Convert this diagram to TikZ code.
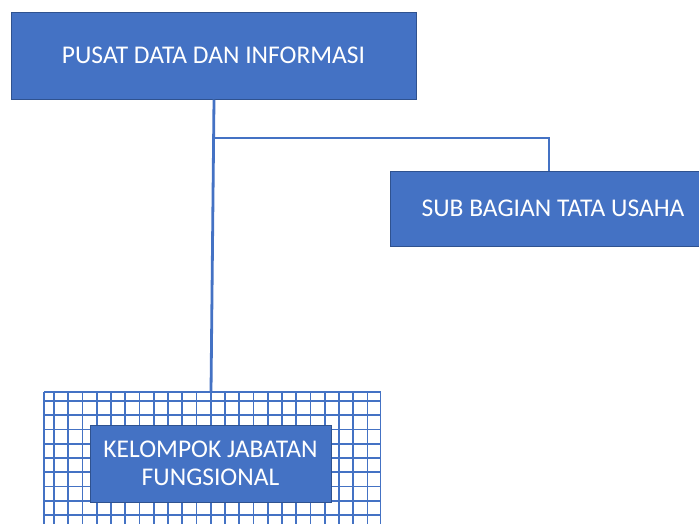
\documentclass[tikz,border=0pt]{standalone}
\usepackage{fontspec}
\setmainfont{Carlito}
\definecolor{boxblue}{HTML}{4472C4}
\definecolor{boxedge}{HTML}{2F528F}
\definecolor{gridblue}{HTML}{4472C4}
\begin{document}
\begin{tikzpicture}[x=1pt,y=-1pt,
  unitbox/.style={draw=boxedge,line width=0.8pt,fill=boxblue,text=white,
    inner sep=0pt,align=center,font=\fontsize{25.5}{28}\selectfont},
  conn/.style={draw=boxblue,line width=2.8pt},
  gridline/.style={draw=gridblue,line width=1.6pt}]
\useasboundingbox (0,0) rectangle (699,523);
\clip (0,0) rectangle (699,523);
% grid area
\node[draw=none,minimum width=336pt,minimum height=140pt,inner sep=0pt,anchor=north west] (gridarea) at (44,392) {};
\begin{scope}
\clip (43,391) rectangle (381.5,523);
\foreach \i in {0,...,22} {\draw[gridline] (54+14.25*\i,392) -- (54+14.25*\i,530);}
\foreach \j in {0,...,8} {\draw[gridline] (44,401+14.25*\j) -- (381,401+14.25*\j);}
\draw[gridline] (44,392) -- (381,392);
\draw[gridline] (44,392) -- (44,530);
\draw[gridline] (380.5,392) -- (380.5,530);
\end{scope}
% boxes
\node[unitbox,minimum width=405pt,minimum height=87pt] (top) at (213.5,55.5) {PUSAT DATA DAN INFORMASI};
\node[unitbox,minimum width=326pt,minimum height=75pt] (sub) at (553,208.5) {SUB BAGIAN TATA USAHA};
\node[unitbox,minimum width=241pt,minimum height=77pt] (kel) at (210.5,463.5) {KELOMPOK JABATAN\\FUNGSIONAL};
% connectors
\coordinate (topfoot) at (214,99.5);
\coordinate (gridtop) at (211,392);
\coordinate (branch) at (214,138);
\coordinate (subtop) at (549,171);
\draw[conn] (topfoot) -- (gridtop);
\draw[conn] (branch) -| (subtop);
\end{tikzpicture}
\end{document}
